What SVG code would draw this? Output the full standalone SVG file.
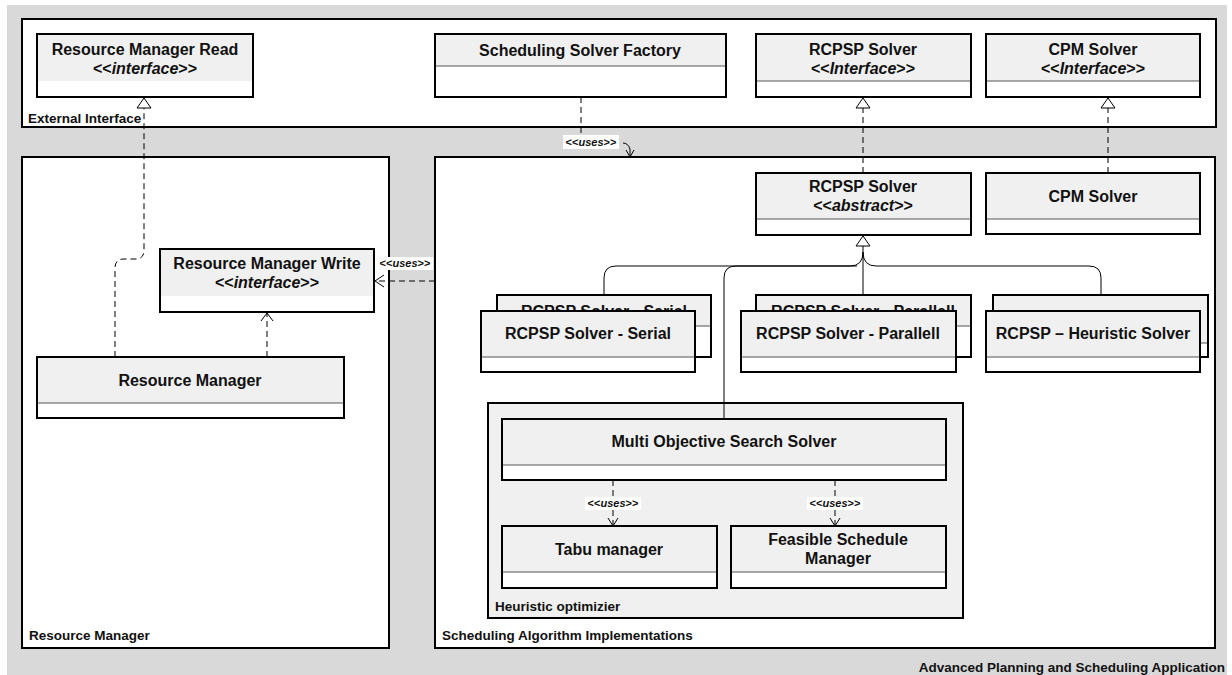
<svg xmlns="http://www.w3.org/2000/svg" width="1232" height="675" viewBox="0 0 1232 675">
<defs>
<style>
.pkg{fill:#fff;stroke:#000;stroke-width:2}
.box{fill:#fff;stroke:#000;stroke-width:2}
.hdr{fill:#f0f0f0;stroke:none}
.sep{stroke:#555;stroke-width:1}
.t{font-family:"Liberation Sans",Arial,sans-serif;font-weight:bold;font-size:16px;fill:#111;text-anchor:middle}
.pl{font-family:"Liberation Sans",Arial,sans-serif;font-weight:bold;font-size:13.5px;fill:#111}
.u{font-family:"Liberation Sans",Arial,sans-serif;font-weight:bold;font-size:11px;fill:#111;text-anchor:middle}
.dash{fill:none;stroke:#000;stroke-width:1;stroke-dasharray:6,4}
.solid{fill:none;stroke:#000;stroke-width:1}
</style>
</defs>
<rect x="0" y="0" width="1232" height="675" fill="#fff"/>
<rect x="7" y="5" width="1220" height="670" fill="#d9d9d9"/>

<g id="pkg-external">
<rect class="pkg" x="22" y="19" width="1194" height="108"/>
<text class="pl" x="28" y="123">External Interface</text>
</g>
<g id="pkg-resource">
<rect class="pkg" x="22" y="157" width="367" height="491"/>
<text class="pl" x="29" y="640">Resource Manager</text>
</g>
<g id="pkg-scheduling">
<rect class="pkg" x="435" y="157" width="780" height="491"/>
<text class="pl" x="442" y="640">Scheduling Algorithm Implementations</text>
</g>
<g id="pkg-heuristic">
<rect x="488" y="403" width="475" height="215" fill="#f0f0f0" stroke="#000" stroke-width="2"/>
<text class="pl" x="495" y="611">Heuristic optimizier</text>
</g>
<text class="pl" x="1225" y="672" text-anchor="end">Advanced Planning and Scheduling Application</text>

<g id="rm-read">
<rect class="box" x="37" y="34" width="216" height="63"/>
<rect class="hdr" x="38" y="35" width="214" height="46"/>
<text class="t" x="145" y="55">Resource Manager Read</text>
<text class="t" x="145" y="74">&lt;&lt;<tspan font-style="italic">interface</tspan>&gt;&gt;</text>
</g>
<g id="factory">
<rect class="box" x="435" y="34" width="291" height="63"/>
<rect class="hdr" x="436" y="35" width="289" height="31"/>
<line class="sep" x1="436" y1="66" x2="725" y2="66"/>
<text class="t" x="580" y="56">Scheduling Solver Factory</text>
</g>
<g id="rcpsp-interface">
<rect class="box" x="756" y="34" width="215" height="63"/>
<rect class="hdr" x="757" y="35" width="213" height="46"/>
<line class="sep" x1="757" y1="81" x2="970" y2="81"/>
<text class="t" x="863" y="55">RCPSP Solver</text>
<text class="t" x="863" y="74">&lt;&lt;<tspan font-style="italic">Interface</tspan>&gt;&gt;</text>
</g>
<g id="cpm-interface">
<rect class="box" x="986" y="34" width="214" height="63"/>
<rect class="hdr" x="987" y="35" width="212" height="46"/>
<line class="sep" x1="987" y1="81" x2="1199" y2="81"/>
<text class="t" x="1093" y="55">CPM Solver</text>
<text class="t" x="1093" y="74">&lt;&lt;<tspan font-style="italic">Interface</tspan>&gt;&gt;</text>
</g>

<g id="rm-write">
<rect class="box" x="160" y="249" width="214" height="63"/>
<rect class="hdr" x="161" y="250" width="212" height="46"/>
<text class="t" x="267" y="269">Resource Manager Write</text>
<text class="t" x="267" y="288">&lt;&lt;<tspan font-style="italic">interface</tspan>&gt;&gt;</text>
</g>
<g id="resource-manager">
<rect class="box" x="37" y="357" width="307" height="61"/>
<rect class="hdr" x="38" y="358" width="305" height="45"/>
<line class="sep" x1="38" y1="403" x2="343" y2="403"/>
<text class="t" x="190" y="386">Resource Manager</text>
</g>

<g id="rcpsp-abstract">
<rect class="box" x="756" y="173" width="215" height="62"/>
<rect class="hdr" x="757" y="174" width="213" height="45"/>
<line class="sep" x1="757" y1="219" x2="970" y2="219"/>
<text class="t" x="863" y="192">RCPSP Solver</text>
<text class="t" x="863" y="211">&lt;&lt;<tspan font-style="italic">abstract</tspan>&gt;&gt;</text>
</g>
<g id="cpm-solver">
<rect class="box" x="986" y="173" width="214" height="61"/>
<rect class="hdr" x="987" y="174" width="212" height="45"/>
<line class="sep" x1="987" y1="219" x2="1199" y2="219"/>
<text class="t" x="1093" y="202">CPM Solver</text>
</g>

<g id="connectors">
<path class="dash" d="M115,357 V268 Q115,259 124,259 H136 Q144,259 144,250 V108"/>
<path d="M144,98 L137,108 L151,108 Z" fill="#fff" stroke="#000" stroke-width="1"/>
<path class="dash" d="M267,357 V313"/>
<path class="solid" d="M261,321 L267,313 L273,321"/>
<path class="dash" d="M435,281 H376"/>
<path class="solid" d="M384,275 L375,281 L384,287"/>
<rect x="377" y="257" width="56" height="13" fill="#fff"/>
<text class="u" x="405" y="267">&lt;&lt;<tspan font-style="italic">uses</tspan>&gt;&gt;</text>
<path class="dash" d="M581,97 V135"/>
<rect x="563" y="135" width="56" height="14" fill="#fff"/>
<text class="u" x="591" y="146">&lt;&lt;<tspan font-style="italic">uses</tspan>&gt;&gt;</text>
<path class="solid" d="M623,143 Q628,143 630,149 V156"/>
<path class="solid" d="M626,150 L630,157 L634,150"/>
<path class="dash" d="M863,173 V108"/>
<path d="M863,98 L856,108 L870,108 Z" fill="#fff" stroke="#000" stroke-width="1"/>
<path class="dash" d="M1108,173 V108"/>
<path d="M1108,98 L1101,108 L1115,108 Z" fill="#fff" stroke="#000" stroke-width="1"/>
<path d="M863,236 L856,246 L870,246 Z" fill="#fff" stroke="#000" stroke-width="1"/>
<path class="solid" d="M863,246 V295"/>
<path class="solid" d="M863,252 Q863,266 850,266 H616 Q604,266 604,278 V295"/>
<path class="solid" d="M863,252 Q863,266 876,266 H1089 Q1101,266 1101,278 V295"/>
<path class="solid" d="M857,266 H736 Q724,266 724,278 V419"/>
<path class="dash" d="M613,480 V525"/>
<path class="solid" d="M608,518 L613,526 L618,518"/>
<rect x="585" y="497" width="56" height="13" fill="#fff"/>
<text class="u" x="613" y="507">&lt;&lt;<tspan font-style="italic">uses</tspan>&gt;&gt;</text>
<path class="dash" d="M835,480 V525"/>
<path class="solid" d="M830,518 L835,526 L840,518"/>
<rect x="807" y="497" width="56" height="13" fill="#fff"/>
<text class="u" x="835" y="507">&lt;&lt;<tspan font-style="italic">uses</tspan>&gt;&gt;</text>
</g>

<g id="serial">
<rect class="box" x="497" y="295" width="214" height="62"/>
<rect class="hdr" x="498" y="296" width="212" height="30"/>
<line class="sep" x1="498" y1="326" x2="710" y2="326"/>
<text class="t" x="604" y="317">RCPSP Solver - Serial</text>
<rect class="box" x="481" y="311" width="214" height="61"/>
<rect class="hdr" x="482" y="312" width="212" height="45"/>
<line class="sep" x1="482" y1="357" x2="694" y2="357"/>
<text class="t" x="588" y="339">RCPSP Solver - Serial</text>
</g>
<g id="parallell">
<rect class="box" x="756" y="295" width="215" height="62"/>
<rect class="hdr" x="757" y="296" width="213" height="30"/>
<line class="sep" x1="757" y1="326" x2="970" y2="326"/>
<text class="t" x="863" y="317">RCPSP Solver - Parallell</text>
<rect class="box" x="741" y="311" width="215" height="61"/>
<rect class="hdr" x="742" y="312" width="213" height="45"/>
<line class="sep" x1="742" y1="357" x2="955" y2="357"/>
<text class="t" x="848" y="339">RCPSP Solver - Parallell</text>
</g>
<g id="heuristic">
<rect class="box" x="993" y="295" width="215" height="62"/>
<rect class="hdr" x="994" y="296" width="213" height="47"/>
<line class="sep" x1="994" y1="343" x2="1207" y2="343"/>
<rect class="box" x="986" y="311" width="214" height="61"/>
<rect class="hdr" x="987" y="312" width="212" height="45"/>
<line class="sep" x1="987" y1="357" x2="1199" y2="357"/>
<text class="t" x="1093" y="339">RCPSP – Heuristic Solver</text>
</g>

<g id="moss">
<rect class="box" x="502" y="419" width="444" height="61"/>
<rect class="hdr" x="503" y="420" width="442" height="45"/>
<line class="sep" x1="503" y1="465" x2="945" y2="465"/>
<text class="t" x="724" y="447">Multi Objective Search Solver</text>
</g>
<g id="tabu">
<rect class="box" x="502" y="526" width="215" height="62"/>
<rect class="hdr" x="503" y="527" width="213" height="45"/>
<line class="sep" x1="503" y1="572" x2="716" y2="572"/>
<text class="t" x="609" y="555">Tabu manager</text>
</g>
<g id="feasible">
<rect class="box" x="731" y="526" width="215" height="62"/>
<rect class="hdr" x="732" y="527" width="213" height="45"/>
<line class="sep" x1="732" y1="572" x2="945" y2="572"/>
<text class="t" x="838" y="545">Feasible Schedule</text>
<text class="t" x="838" y="564">Manager</text>
</g>
</svg>
